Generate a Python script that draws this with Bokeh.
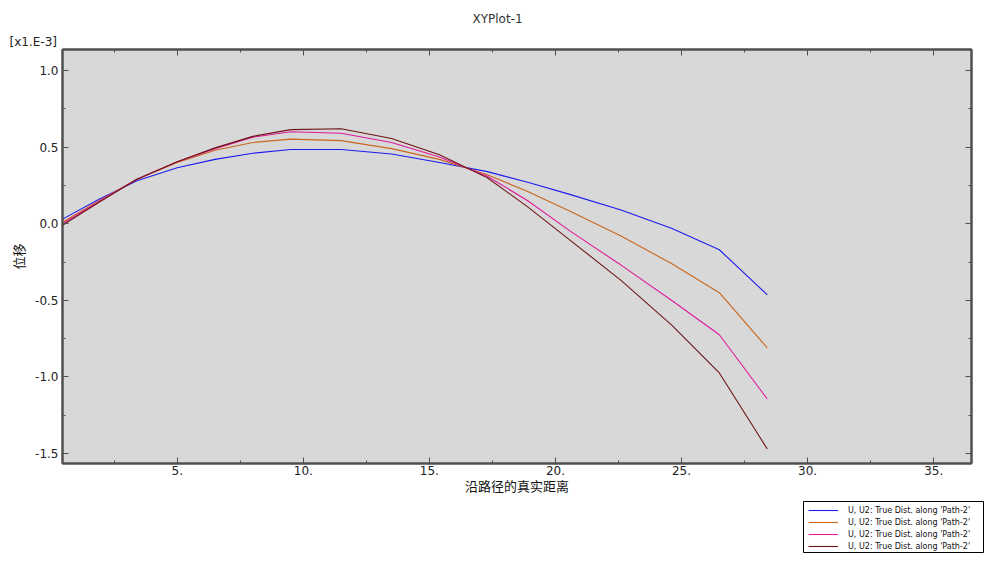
from bokeh.plotting import figure
from bokeh.models import (Range1d, FixedTicker, LinearAxis, Legend, LegendItem, Title, Spacer)
from bokeh.layouts import column, row
from bokeh.embed import file_html
from bokeh.resources import INLINE

# ---- data (values in units of 1e-3) ----
dist = [0.45, 1.9, 3.4, 5.0, 6.5, 8.0, 9.5, 11.5, 13.5, 15.4, 17.3, 18.9, 20.6, 22.6, 24.6, 26.5, 28.4]
u_blue = [0.03, 0.16, 0.28, 0.365, 0.42, 0.46, 0.484, 0.484, 0.455, 0.40, 0.34, 0.27, 0.19, 0.09, -0.03, -0.17, -0.464]
u_orange = [0.01, 0.15, 0.29, 0.40, 0.48, 0.53, 0.552, 0.542, 0.49, 0.42, 0.32, 0.21, 0.08, -0.08, -0.26, -0.45, -0.81]
u_magenta = [0.0, 0.145, 0.29, 0.405, 0.49, 0.565, 0.60, 0.59, 0.53, 0.435, 0.31, 0.15, -0.05, -0.27, -0.50, -0.725, -1.144]
u_brown = [-0.01, 0.14, 0.29, 0.405, 0.495, 0.57, 0.614, 0.62, 0.556, 0.45, 0.30, 0.11, -0.11, -0.37, -0.66, -0.974, -1.47]

series_names = ["U, U2: True Dist. along 'Path-2'"] * 4
series_colors = ["#1c1cf0", "#c8661e", "#e01a9c", "#6e1616"]

x_ticks = [5, 10, 15, 20, 25, 30, 35]
x_tick_labels = ["5.", "10.", "15.", "20.", "25.", "30.", "35."]
x_minor = [2.5, 7.5, 12.5, 17.5, 22.5, 27.5, 32.5]
y_ticks = [-1.5, -1.0, -0.5, 0.0, 0.5, 1.0]
y_tick_labels = ["-1.5", "-1.0", "-0.5", "0.0", "0.5", "1.0"]
y_minor = [-1.25, -0.75, -0.25, 0.25, 0.75]

title_text = "XYPlot-1"
x_label = "沿路径的真实距离"
y_label = "位移"
scale_text = "[x1.E-3]"

FONT = "DejaVu Sans"
CJK = "Noto Sans CJK SC"
AX = "#505050"

p = figure(width=986, height=500, output_backend="svg", toolbar_location=None, title=None,
           x_range=Range1d(0.45, 36.5), y_range=Range1d(-1.565, 1.137),
           min_border_left=62, min_border_right=15, min_border_top=49, min_border_bottom=37,
           x_axis_location=None, y_axis_location=None)
p.background_fill_color = "#d8d8d8"
p.border_fill_color = "white"
p.outline_line_color = AX
p.outline_line_width = 2
p.xgrid.visible = False
p.ygrid.visible = False

def style_axis(ax, ticks, minor, labels, show_labels):
    ax.ticker = FixedTicker(ticks=ticks, minor_ticks=minor)
    ax.major_label_overrides = {t: l for t, l in zip(ticks, labels)}
    ax.axis_line_color = AX
    ax.axis_line_width = 2
    ax.major_tick_line_color = AX
    ax.minor_tick_line_color = AX
    ax.major_tick_in = 6
    ax.major_tick_out = 0
    ax.minor_tick_in = 3
    ax.minor_tick_out = 0
    ax.major_label_standoff = 4
    ax.major_label_text_font = FONT
    ax.major_label_text_font_size = "12px" if show_labels else "0px"
    ax.major_label_text_color = "#222222" if show_labels else None
    ax.axis_label_text_font = CJK
    ax.axis_label_text_font_size = "13px"
    ax.axis_label_text_font_style = "normal"
    ax.axis_label_text_color = "#111111"

xb = LinearAxis(axis_label=x_label)
style_axis(xb, x_ticks, x_minor, x_tick_labels, True)
xb.major_label_standoff = 2
xb.axis_label_standoff = -2
p.add_layout(xb, "below")
xa = LinearAxis()
style_axis(xa, x_ticks, x_minor, x_tick_labels, False)
p.add_layout(xa, "above")
yl = LinearAxis(axis_label=y_label)
style_axis(yl, y_ticks, y_minor, y_tick_labels, True)
yl.major_label_standoff = 4
yl.axis_label_standoff = 4
p.add_layout(yl, "left")
yr = LinearAxis()
style_axis(yr, y_ticks, y_minor, y_tick_labels, False)
p.add_layout(yr, "right")

series_values = [u_blue, u_orange, u_magenta, u_brown]
for ys, c in zip(series_values, series_colors):
    p.line(dist, ys, line_color=c, line_width=1.1)

t1 = Title(text=scale_text, align="left", offset=-53, text_font=FONT, text_font_size="12px",
           text_font_style="normal", text_color="#222222", standoff=2)
p.add_layout(t1, "above")
t2 = Title(text=title_text, align="left", offset=410, text_font=FONT, text_font_size="12px",
           text_font_style="normal", text_color="#333333", standoff=11)
p.add_layout(t2, "above")

# ---- legend box (separate small figure below the plot, at the right) ----
# the series are drawn here too, but outside this figure's view, so only the legend shows
lf = figure(width=182, height=53, output_backend="svg", toolbar_location=None, title=None,
            x_range=Range1d(1000, 1001), y_range=Range1d(1000, 1001),
            min_border_left=1, min_border_right=1, min_border_top=1, min_border_bottom=1,
            x_axis_location=None, y_axis_location=None)
lf.xgrid.visible = False
lf.ygrid.visible = False
lf.background_fill_color = "white"
lf.border_fill_color = "white"
lf.outline_line_color = "black"
lf.outline_line_width = 1
leg_renderers = [lf.line(dist, ys, line_color=c, line_width=1.1)
                 for ys, c in zip(series_values, series_colors)]
legend = Legend(items=[LegendItem(label=n, renderers=[r]) for n, r in zip(series_names, leg_renderers)],
                location=(5, 0), orientation="vertical")
legend.label_text_font = FONT
legend.label_text_font_size = "8px"
legend.label_text_color = "#111111"
legend.glyph_width = 30
legend.glyph_height = 12
legend.label_height = 12
legend.label_standoff = 10
legend.spacing = 0
legend.padding = 3
legend.margin = 0
legend.border_line_color = None
legend.background_fill_alpha = 0
lf.add_layout(legend, "center")

layout = column(p, row(Spacer(width=802, height=53), lf))

open("out.html", "w").write(file_html(layout, INLINE))
